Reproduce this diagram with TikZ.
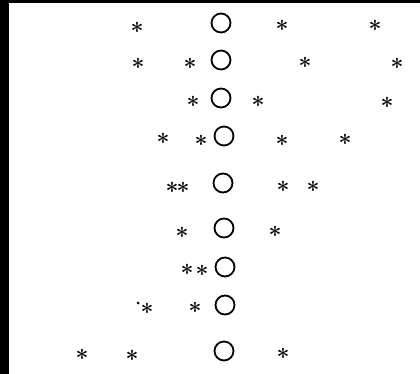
\documentclass[tikz,border=0pt]{standalone}
\begin{document}
\begin{tikzpicture}[x=1pt,y=-1pt,
  star/.style={inner sep=0pt,text height=31pt,text depth=0pt,font=\fontsize{23}{23}\selectfont\bfseries},
  ring/.style={circle,draw=black,line width=1.8pt,minimum size=19pt,inner sep=0pt},
  dotm/.style={circle,fill=black,inner sep=0pt,minimum size=3pt}]
\useasboundingbox (0,0) rectangle (420,374);
\fill[black] (0,0) rectangle (420,374);
\fill[white] (9,3) rectangle (420,374);
% row 1
\node[star] (a1) at (137,24) {*};
\node[ring] (c1) at (221,23) {};
\node[star] (a2) at (282,22) {*};
\node[star] (a3) at (375,22) {*};
% row 2
\node[star] (b1) at (138,60) {*};
\node[star] (b2) at (190,60) {*};
\node[ring] (c2) at (221,60) {};
\node[star] (b3) at (305,59) {*};
\node[star] (b4) at (397,60) {*};
% row 3
\node[star] (d1) at (193,98) {*};
\node[ring] (c3) at (221,98) {};
\node[star] (d2) at (258,98) {*};
\node[star] (d3) at (387,99) {*};
% row 4
\node[star] (e1) at (163,135) {*};
\node[star] (e2) at (201,137) {*};
\node[ring] (c4) at (224,136) {};
\node[star] (e3) at (282,137) {*};
\node[star] (e4) at (345,136) {*};
% row 5
\node[star] (f1) at (172,184) {*};
\node[star] (f2) at (183,184) {*};
\node[ring] (c5) at (223,183) {};
\node[star] (f3) at (283,183) {*};
\node[star] (f4) at (313,183) {*};
% row 6
\node[star] (g1) at (182,229) {*};
\node[ring] (c6) at (224,228) {};
\node[star] (g2) at (275,228) {*};
% row 7
\node[star] (h1) at (187,266) {*};
\node[star] (h2) at (202,267) {*};
\node[ring] (c7) at (225,267) {};
% row 8
\node[dotm] (i0) at (138,303) {};
\node[star] (i1) at (147,305) {*};
\node[star] (i2) at (195,304) {*};
\node[ring] (c8) at (225,305) {};
% row 9
\node[star] (j1) at (82,351) {*};
\node[star] (j2) at (132,352) {*};
\node[ring] (c9) at (224,351) {};
\node[star] (j3) at (283,350) {*};
\end{tikzpicture}
\end{document}
